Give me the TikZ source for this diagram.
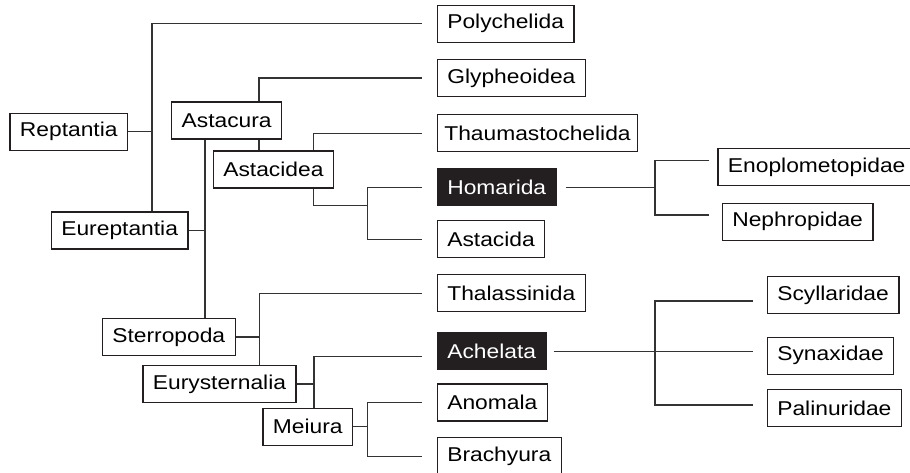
\documentclass[tikz,border=0pt]{standalone}
\usepackage{fontspec}
\setmainfont{Liberation Sans}[FakeStretch=1.14]
\usetikzlibrary{positioning}
\definecolor{ink}{HTML}{231F20}
\definecolor{wire}{HTML}{333333}

\begin{document}
\begin{tikzpicture}[
  x=1pt, y=-1pt,
  font=\fontsize{20}{23}\selectfont,
  taxon/.style={draw=ink, line width=1.3pt, fill=white, text=black, anchor=west,
                minimum height=37pt, inner xsep=10pt, inner ysep=2pt},
  focus/.style={taxon, fill=ink, text=white},
  link/.style={draw=wire, line width=1.3pt}
]
\path[fill=white] (0,0) rectangle (910,473);
\useasboundingbox (0,0) rectangle (910,473);

% inner clades
\node[taxon] (Reptantia)     at (9.3,131.7)   {Reptantia};
\node[taxon] (Eureptantia)   at (50.7,230.5)  {Eureptantia};
\node[taxon] (Astacura)      at (171,120.5)   {Astacura};
\node[taxon] (Astacidea)     at (212.7,169.5) {Astacidea};
\node[taxon] (Sterropoda)    at (101.7,337)   {Sterropoda};
\node[taxon] (Eurysternalia) at (142.3,384)   {Eurysternalia};
\node[taxon] (Meiura)        at (262.3,426.8) {Meiura};

% middle column
\node[taxon] (Polychelida)      at (436.7,23.7)  {Polychelida};
\node[taxon] (Glypheoidea)      at (436.7,78)    {Glypheoidea};
\node[taxon, inner xsep=7pt] (Thaumastochelida) at (436.7,133.3) {Thaumastochelida};
\node[focus] (Homarida)         at (436.7,187.2) {Homarida};
\node[taxon] (Astacida)         at (436.7,239.2) {Astacida};
\node[taxon] (Thalassinida)     at (436.7,293.3) {Thalassinida};
\node[focus] (Achelata)         at (436.7,351.3) {Achelata};
\node[taxon] (Anomala)          at (436.7,402.5) {Anomala};
\node[taxon] (Brachyura)        at (436.7,456.2) {Brachyura};

% families
\node[taxon] (Enoplometopidae) at (717.3,167.3) {Enoplometopidae};
\node[taxon] (Nephropidae)     at (721.7,221.7) {Nephropidae};
\node[taxon] (Scyllaridae)     at (766.7,295.3) {Scyllaridae};
\node[taxon] (Synaxidae)       at (766.7,355.8) {Synaxidae};
\node[taxon] (Palinuridae)     at (766.7,408.3) {Palinuridae};

% line ends and bracket spines
\coordinate (colA) at (421.7,0);
\coordinate (colB) at (709.3,0);
\coordinate (colC) at (752.7,0);
\coordinate (kRep)  at (152,0);
\coordinate (kEur)  at (205,0);
\coordinate (kAsc)  at (259,0);
\coordinate (kAsd)  at (313.3,0);
\coordinate (kSte)  at (259.3,0);
\coordinate (kEury) at (314,0);
\coordinate (kMei)  at (367.7,0);
\coordinate (kHom)  at (655,0);
\coordinate (kHA)   at (367.7,205.7);
\coordinate (achL) at ([yshift=-5pt]Achelata.west);
\coordinate (eno)  at ([yshift=7pt]Enoplometopidae.west);
\coordinate (nep)  at ([yshift=6.7pt]Nephropidae.west);
\coordinate (scy)  at ([yshift=-5.7pt]Scyllaridae.west);
\coordinate (pal)  at ([yshift=3.3pt]Palinuridae.west);

\draw[link] (Reptantia.east) -- (Reptantia.east -| kRep);
\draw[link] (Polychelida.west -| colA) -| (kRep |- Eureptantia.north);
\draw[link] (Eureptantia.east) -- (Eureptantia.east -| kEur);
\draw[link] (kEur |- Astacura.south) -- (kEur |- Sterropoda.north);
\draw[link] (Glypheoidea.west -| colA) -| (kAsc |- Astacura.north);
\draw[link] (kAsc |- Astacura.south) -- (kAsc |- Astacidea.north);
\draw[link] (Thaumastochelida.west -| colA) -| (kAsd |- Astacidea.north);
\draw[link] (kAsd |- Astacidea.south) |- (kHA);
\draw[link] (Homarida.west -| colA) -| (kHA) |- (Astacida.west -| colA);
\draw[link] (Sterropoda.east) -- (Sterropoda.east -| kSte);
\draw[link] (Thalassinida.west -| colA) -| (kSte |- Eurysternalia.north);
\draw[link] (Eurysternalia.east) -- (Eurysternalia.east -| kEury);
\draw[link] (achL -| colA) -| (kEury |- Meiura.north);
\draw[link] (Meiura.east) -- (Meiura.east -| kMei);
\draw[link] (Anomala.west -| colA) -| (kMei |- Brachyura.west) -- (Brachyura.west -| colA);

\draw[link, shorten <=9pt] (Homarida.east) -- (Homarida.east -| kHom);
\draw[link] (eno -| colB) -| (kHom |- Homarida.east) |- (nep -| colB);
\draw[link, shorten <=7pt] (Achelata.east) -- (Achelata.east -| colC);
\draw[link] (scy -| colC) -| (kHom |- pal) -- (pal -| colC);
\end{tikzpicture}
\end{document}
